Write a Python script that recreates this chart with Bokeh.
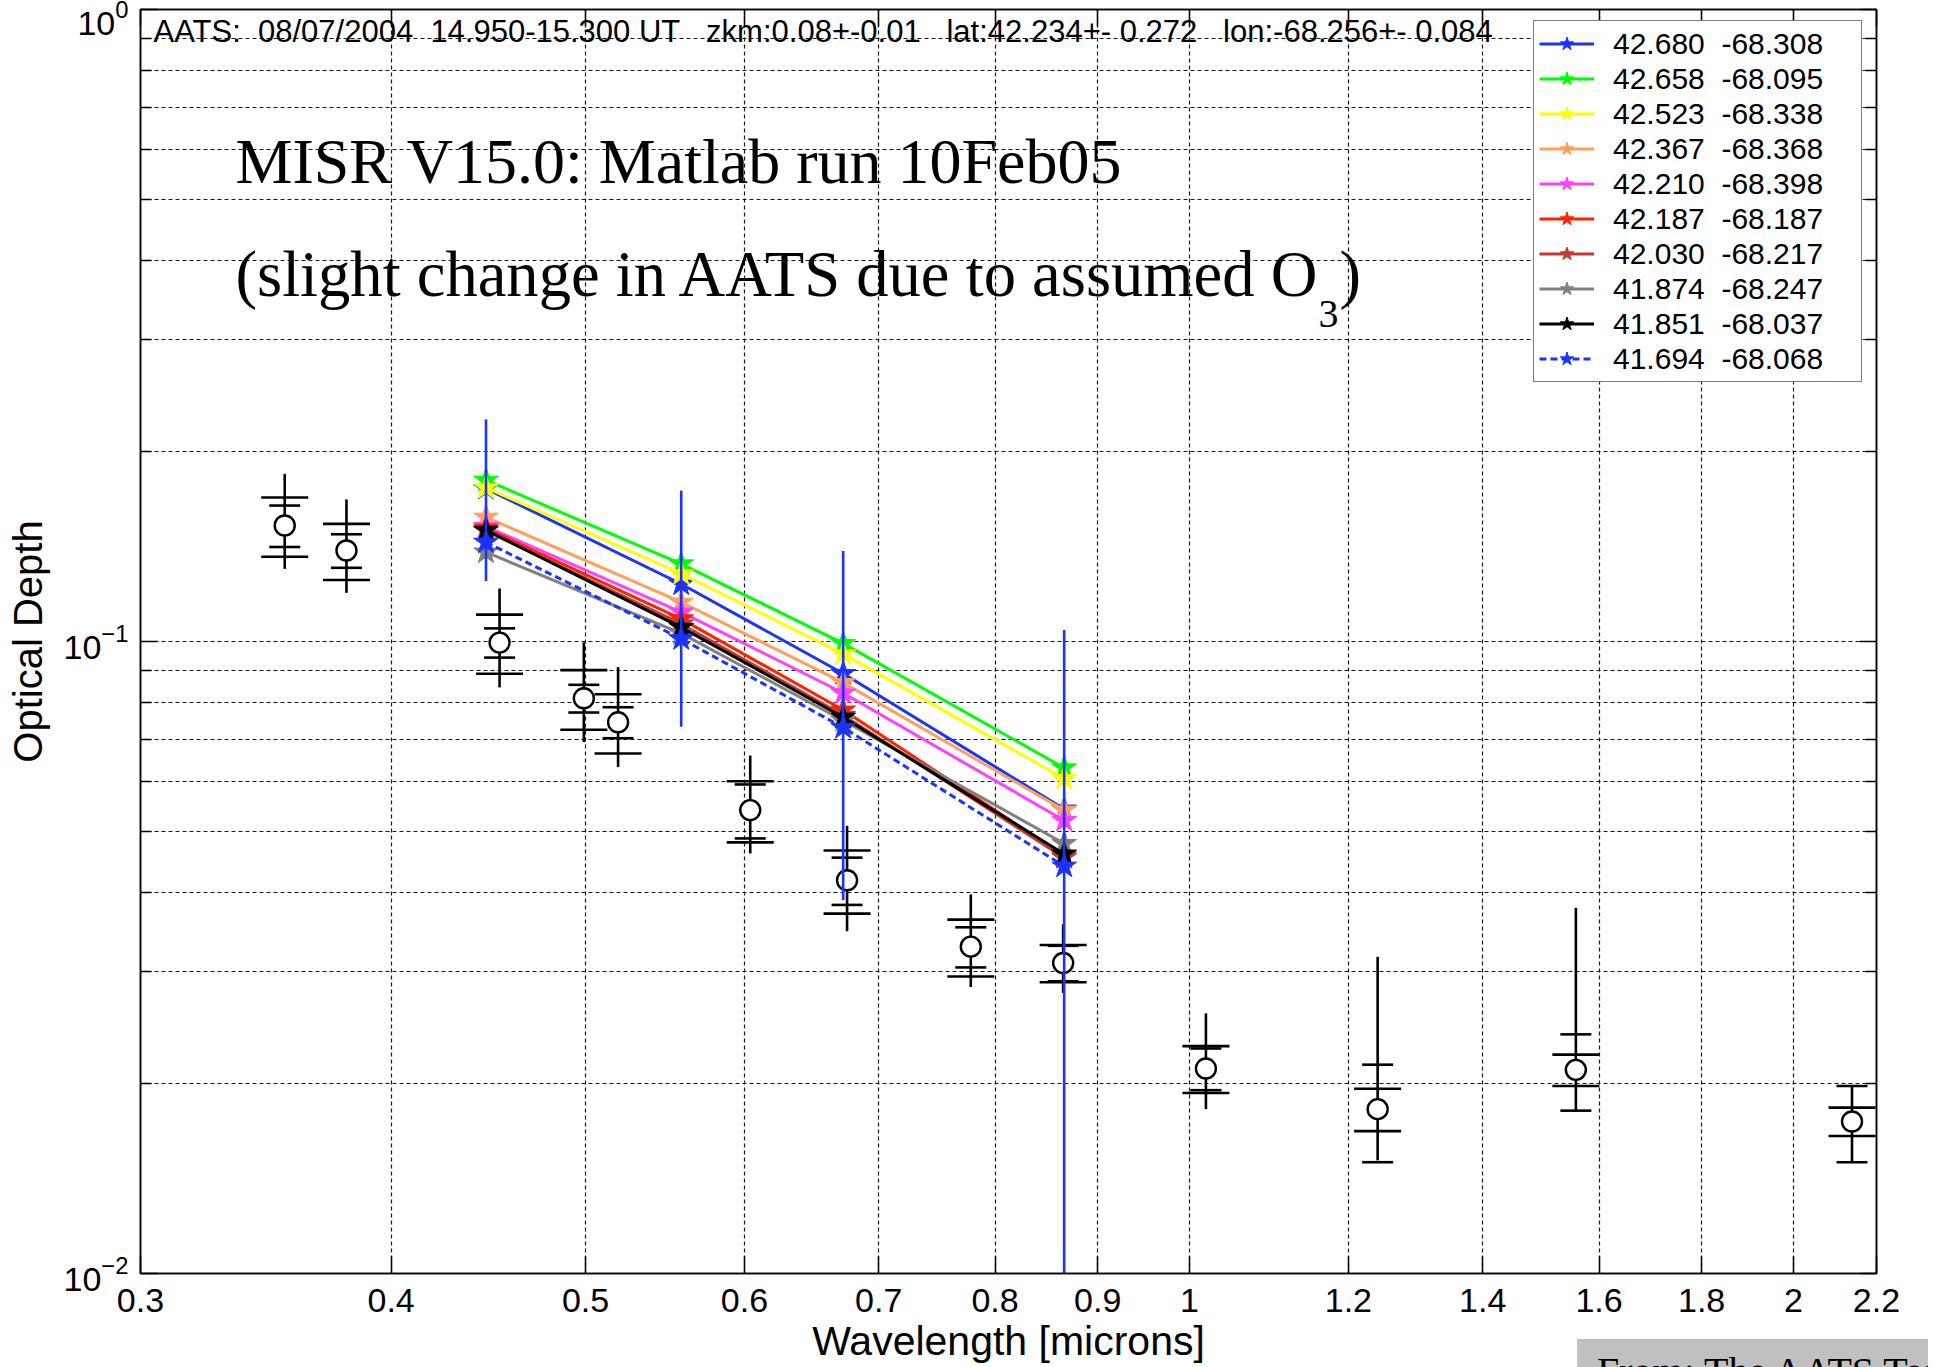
import numpy as np
from bokeh.plotting import figure
from bokeh.layouts import column
from bokeh.models import (LogAxis, FixedTicker, CustomJSTickFormatter, Legend,
                          LegendItem, Label, Div)
from bokeh.embed import file_html
from bokeh.resources import INLINE

# ---------------- data ----------------
# AATS-14 sunphotometer
aats_wl = [0.354, 0.380, 0.453, 0.499, 0.519, 0.604, 0.675, 0.778, 0.865,
           1.019, 1.241, 1.558, 2.139]
aats_aod = [0.1526, 0.1393, 0.0996, 0.0813, 0.0745, 0.0541, 0.0419, 0.0329,
            0.0310, 0.0211, 0.0182, 0.0210, 0.0174]
aats_line_up = [0.0316, 0.0285, 0.0217, 0.0184, 0.0166, 0.0119, 0.0092,
                0.0069, 0.0047, 0.0047, 0.0135, 0.0169, 0.0024]
aats_line_dn = [0.0223, 0.0199, 0.0150, 0.0120, 0.0112, 0.0079, 0.0071,
                0.0045, 0.0032, 0.0029, 0.0031, 0.0029, 0.0024]
aats_err_wide = [0.0164, 0.0142, 0.0107, 0.0088, 0.0080, 0.0060, 0.0048,
                 0.0034, 0.0021, 0.0018, 0.0014, 0.0012, 0.0009]
aats_err_narrow = [0.0115, 0.0085, 0.0053, 0.0041, 0.0042, 0.0053, 0.0036,
                   0.0024, 0.0020, 0.0016, 0.0032, 0.0029, 0.0024]

# MISR V15.0 retrievals
misr_wl = [0.446, 0.558, 0.672, 0.866]
misr_labels = ["42.680  -68.308", "42.658  -68.095", "42.523  -68.338",
               "42.367  -68.368", "42.210  -68.398", "42.187  -68.187",
               "42.030  -68.217", "41.874  -68.247", "41.851  -68.037",
               "41.694  -68.068"]
misr_vals = [
    [0.1746, 0.1233, 0.0890, 0.0543],
    [0.1800, 0.1327, 0.0993, 0.0631],
    [0.1751, 0.1280, 0.0956, 0.0607],
    [0.1573, 0.1154, 0.0861, 0.0541],
    [0.1520, 0.1113, 0.0829, 0.0521],
    [0.1510, 0.1086, 0.0779, 0.0458],
    [0.1497, 0.1066, 0.0764, 0.0455],
    [0.1385, 0.1030, 0.0750, 0.0479],
    [0.1500, 0.1053, 0.0759, 0.0461],
    [0.1436, 0.1010, 0.0731, 0.0441],
]
misr_colors = ["#1a33ff", "#00ff00", "#ffff00", "#ffa060", "#ff40ff",
               "#ff2200", "#c8372d", "#808080", "#000000", "#1a33ff"]
misr_dash = ["solid"] * 9 + ["7 4"]
misr_err = [0.05, 0.05, 0.05, 0.05]   # uncertainty drawn on the first series

# axes
x_ticks = [0.3, 0.4, 0.5, 0.6, 0.7, 0.8, 0.9, 1.0, 1.2, 1.4, 1.6, 1.8, 2.0, 2.2]
x_tick_labels = ["0.3", "0.4", "0.5", "0.6", "0.7", "0.8", "0.9", "1",
                 "1.2", "1.4", "1.6", "1.8", "2", "2.2"]
y_major = [0.01, 0.1, 1.0]
y_minor = [0.02, 0.03, 0.04, 0.05, 0.06, 0.07, 0.08, 0.09,
           0.2, 0.3, 0.4, 0.5, 0.6, 0.7, 0.8, 0.9]

header = "AATS:  08/07/2004  14.950-15.300 UT   zkm:0.08+-0.01   lat:42.234+- 0.272   lon:-68.256+- 0.084"
title1 = "MISR V15.0: Matlab run 10Feb05"
title2 = "(slight change in AATS due to assumed O"
title2_sub = "3"
title2_end = ")"
x_title = "Wavelength [microns]"
y_title = "Optical Depth"
credit = "From: The AATS Team"

# ---------------- layout ----------------
W, H = 1933, 1367
FL, FR, FT, FB = 140, 1876, 9, 1273
SANS = "Liberation Sans"
SERIF = "Liberation Serif"

p = figure(width=W, height=H, x_axis_type="log", y_axis_type="log",
           x_range=(0.3, 2.2), y_range=(0.01, 1.0),
           output_backend="svg", toolbar_location=None,
           min_border_left=FL, min_border_right=W - FR,
           min_border_top=FT, min_border_bottom=H - FB)
p.background_fill_color = "white"
p.border_fill_color = "white"
p.outline_line_color = "black"
p.outline_line_width = 1.5

xt = FixedTicker(ticks=x_ticks, minor_ticks=[])
yt = FixedTicker(ticks=y_major, minor_ticks=y_minor)

fmt_code = """
let best = 0, bd = Infinity;
for (let i = 0; i < tvals.length; i++) {
  const d = Math.abs(tvals[i] - tick);
  if (d < bd) { bd = d; best = i; }
}
return tlabs[best];
"""

xa = p.xaxis[0]
xa.ticker = xt
xa.formatter = CustomJSTickFormatter(args=dict(tvals=x_ticks, tlabs=x_tick_labels), code=fmt_code)
xa.axis_label = x_title
xa.major_label_standoff = 15
xa.axis_label_standoff = 3

ya = p.yaxis[0]
ya.ticker = yt
ya.axis_label = y_title
ya.axis_label_standoff = 11
ya.major_label_standoff = 12

for ax in (xa, ya):
    ax.major_tick_in = 17
    ax.major_tick_out = 0
    ax.minor_tick_in = 11
    ax.minor_tick_out = 0
    ax.axis_line_color = "black"
    ax.axis_line_width = 1.5
    ax.major_tick_line_color = "black"
    ax.major_tick_line_width = 1.5
    ax.minor_tick_line_color = "black"
    ax.minor_tick_line_width = 1.5
    ax.major_label_text_font = SANS
    ax.major_label_text_font_size = "34px"
    ax.major_label_text_color = "black"
    ax.axis_label_text_font = SANS
    ax.axis_label_text_font_style = "normal"
    ax.axis_label_text_color = "black"
xa.axis_label_text_font_size = "41px"
ya.axis_label_text_font_size = "40px"

top_ax = LogAxis(ticker=FixedTicker(ticks=x_ticks, minor_ticks=[]))
right_ax = LogAxis(ticker=FixedTicker(ticks=y_major, minor_ticks=y_minor))
for ax in (top_ax, right_ax):
    ax.major_tick_in = 17
    ax.major_tick_out = 0
    ax.minor_tick_in = 11
    ax.minor_tick_out = 0
    ax.major_label_text_font_size = "1px"
    ax.major_label_text_alpha = 0
    ax.major_label_standoff = 0
    ax.axis_line_color = "black"
    ax.axis_line_width = 1.5
    ax.major_tick_line_color = "black"
    ax.major_tick_line_width = 1.5
    ax.minor_tick_line_color = "black"
    ax.minor_tick_line_width = 1.5
p.add_layout(top_ax, "above")
p.add_layout(right_ax, "right")

p.xgrid.ticker = xt
p.ygrid.ticker = yt
for g in (p.xgrid[0], p.ygrid[0]):
    g.grid_line_color = "black"
    g.grid_line_dash = "4 3"
    g.grid_line_width = 1.2
    g.grid_line_alpha = 0.9
p.ygrid[0].minor_grid_line_color = "black"
p.ygrid[0].minor_grid_line_dash = "4 3"
p.ygrid[0].minor_grid_line_width = 1.2
p.ygrid[0].minor_grid_line_alpha = 0.9

# ---------------- AATS ----------------
wl = np.array(aats_wl)
aod = np.array(aats_aod)
p.segment(x0=wl, y0=aod - np.array(aats_line_dn), x1=wl, y1=aod + np.array(aats_line_up),
          line_color="black", line_width=2.6)
ew = np.array(aats_err_wide)
en = np.array(aats_err_narrow)
p.scatter(np.concatenate([wl, wl]), np.concatenate([aod + ew, aod - ew]),
          marker="dash", size=47, line_color="black", line_width=2.6)
p.scatter(np.concatenate([wl, wl]), np.concatenate([aod + en, aod - en]),
          marker="dash", size=31, line_color="black", line_width=2.6)
p.scatter(wl, aod, marker="circle", size=20, line_color="black",
          fill_color="white", line_width=2.4)

# ---------------- MISR ----------------
items = []
for lab, vals, col, dash in zip(misr_labels, misr_vals, misr_colors, misr_dash):
    lr = p.line(misr_wl, vals, line_color=col, line_width=3, line_dash=dash)
    sr = p.scatter(misr_wl, vals, marker="star", size=26, fill_color=col,
                   line_color=col, line_width=1)
    items.append(LegendItem(label=lab.replace("  ", "\u00a0 "), renderers=[lr, sr]))

mw = np.array(misr_wl)
m0 = np.array(misr_vals[0])
me = np.array(misr_err)
p.segment(x0=mw, y0=m0 - me, x1=mw, y1=m0 + me, line_color=misr_colors[0], line_width=2.6)

legend = Legend(items=items, location=(1533 - FL, FB - 382),
                label_text_font=SANS, label_text_font_size="30px",
                label_text_color="black", glyph_width=55, glyph_height=35,
                label_height=35, label_width=243, label_standoff=19,
                spacing=0, padding=5, margin=0,
                border_line_color="black", border_line_width=1.5,
                background_fill_color="white", background_fill_alpha=1.0)
p.add_layout(legend, "center")

# ---------------- texts ----------------
def lab(text, X, Y, font, size, **kw):
    return Label(text=text, x=X - FL, y=FB - Y, x_units="screen", y_units="screen",
                 text_font=font, text_font_size=size, text_color="black", **kw)

p.add_layout(lab(header.replace(" ", "\u00a0"), 153, 48, SANS, "31px"))
p.add_layout(lab(title1, 235, 196, SERIF, "64px"))
p.add_layout(lab(title2, 235, 309, SERIF, "64.6px"))
p.add_layout(lab(title2_sub, 1318, 326, SERIF, "40px"))
p.add_layout(lab(title2_end, 1339, 309, SERIF, "64.6px"))

credit_div = Div(text=credit, width=351, height=28, margin=(-28, 0, 0, 1577),
                 styles={"background-color": "#c0c0c0", "font-family": SERIF,
                         "font-size": "40px", "line-height": "1", "color": "black",
                         "padding-left": "20px", "padding-top": "13px",
                         "overflow": "hidden", "white-space": "nowrap",
                         "box-sizing": "border-box"})

layout = column(p, credit_div, spacing=0)

open("out.html", "w").write(file_html(layout, INLINE))
